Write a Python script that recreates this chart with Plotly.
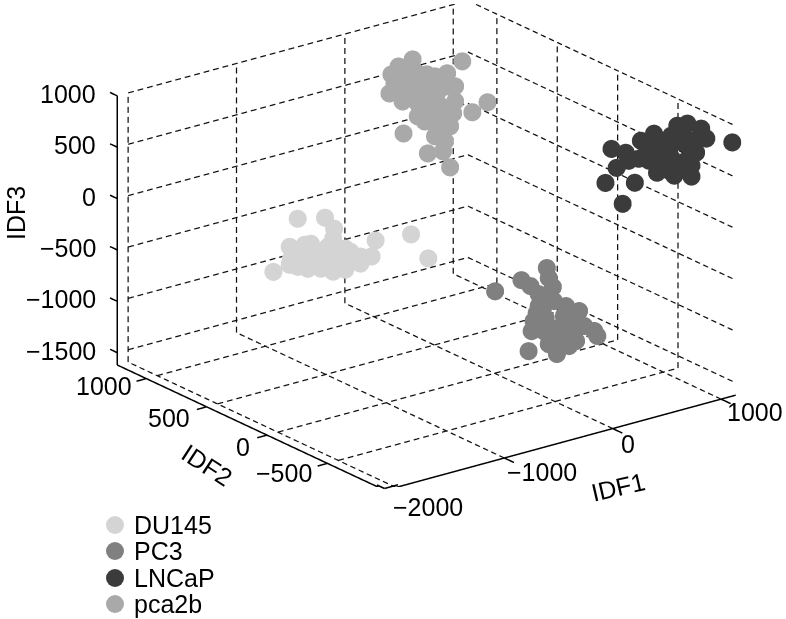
import numpy as np
import plotly.graph_objects as go

# axis limits and ticks
x_range = [-2100, 1135]
y_range = [-978, 1240]
z_range = [-1620, 1000]
x_ticks = [-2000, -1000, 0, 1000]
y_ticks = [-500, 0, 500, 1000]
z_ticks = [-1500, -1000, -500, 0, 500, 1000]
x_labels = ["\u22122000", "\u22121000", "0", "1000"]
y_labels = ["\u2212500", "0", "500", "1000"]
z_labels = ["\u22121500", "\u22121000", "\u2212500", "0", "500", "1000"]

du145_x = [-1014, -762, -678, 32, 191, -1238, -295, -1088, -1079, -1088, -948, -892, -920, -939, -799, -687, -659,
           -687, -575, -547, -435, -435, -332, -799, -1014, -827, -734, -967,
           -920, -780, -640, -1014, -528, -864, -734, -575]
du145_y = [700] * len(du145_x)
du145_z = [-235, -297, -428, -687, -966, -688, -653, -487, -616, -662, -507, -513, -749, -646, -686, -523, -658,
           -844, -651, -786, -769, -837, -798, -783, -586, -658, -733, -570,
           -584, -623, -779, -703, -695, -715, -587, -856]

pc3_x = [-195, 48, 282, 338, 207, 188, 459, 580, 720, 748, 142, 114, 375, 300, 552, 394, 272, 487, 328, 440, 254,
         254, 347, 440, 254, 534, 394, 627, 300, 132, 207, 487, 160]
pc3_y = [-200] * len(pc3_x)
pc3_z = [-681, -642, -591, -792, -823, -1003, -1012, -1095, -1329, -1386, -1165, -1352, -1455, -1337, -1379, -1207,
         -1076, -1195, -1248, -1347, -1197,
         -954, -931, -1103, -1149, -1276, -1334, -1254, -694, -724, -940, -1409, -1073]

lncap_x = [322, 453, 369, 266, 537, 425, 593, 714, 574, 742, 854, 1060, 929, 1022, 976, 854, 733, 873, 1013, 668, 808,
           481, 668, 873, 976, 948, 761, 649, 1060, 854, 1041, 901,
           927, 974, 880, 843, 1130]
lncap_y = [-700] * 32 + [-900] * 4 + [-975]
lncap_z = [832, 757, 634, 517, 441, 268, 834, 868, 664, 480, 468, 351, 884, 878, 706, 741, 678, 589, 521, 764, 530,
           671, 618, 803, 823, 490, 786, 702, 458, 663, 659, 406,
           966, 856, 746, 873, 815]

pca2b_x = [381, 251, 185, 167, 288, 512, 699, 839, 400, 568, 708, 773, 568, 493, 727, 932, 1072, 297, 521, 661, 727,
           633, 335, 213, 615, 755, 428, 540, 633,
           307, 428, 288, 493, 633, 680, 540, 475, 773, 587, 428, 587, 680, 372]
pca2b_y = [1000] * len(pca2b_x)
pca2b_z = [751, 720, 661, 481, 368, 568, 525, 601, 454, 406, 395, 231, 211, 115, 1, 79, 136, 54, -204, -224, -399,
           -70, 530, 565, 257, 119, 310, 443, 76,
           636, 602, 465, 310, 388, 160, 102, 462, 377, 527, 183, -57, -132, 394]

series_names = ["DU145", "PC3", "LNCaP", "pca2b"]
series_colors = ["#d4d4d4", "#808080", "#3b3b3b", "#a9a9a9"]

# my readings came out slightly low and to the right of the grid
read_dx, read_dz = -25, 35

fig = go.Figure()

gx, gy, gz = [], [], []


def dashed(p0, p1, n):
    # chop a grid line into n short pieces, plotly's own 3d dash is far too long here
    p0, p1 = np.array(p0, float), np.array(p1, float)
    for i in range(n):
        a = p0 + (p1 - p0) * i / n
        b = p0 + (p1 - p0) * (i + 0.6) / n
        gx.extend([a[0], b[0], None])
        gy.extend([a[1], b[1], None])
        gz.extend([a[2], b[2], None])


for t in x_ticks:
    dashed((t, y_range[0], z_range[0]), (t, y_range[1], z_range[0]), 33)
    dashed((t, y_range[1], z_range[0]), (t, y_range[1], z_range[1]), 27)
for t in y_ticks:
    dashed((x_ticks[0], t, z_range[0]), (x_range[1], t, z_range[0]), 36)
    dashed((x_range[1], t, z_range[0]), (x_range[1], t, z_range[1]), 27)
for t in z_ticks:
    dashed((x_ticks[0], y_range[1], t), (x_range[1], y_range[1], t), 36)
    dashed((x_range[1], y_range[1], t), (x_range[1], y_range[0], t), 33)
fig.add_trace(go.Scatter3d(x=gx, y=gy, z=gz, mode="lines", showlegend=False, hoverinfo="skip",
                           line=dict(color="#111111", width=2.5)))

# solid axes and tick marks, the native ones came out broken at the corner
ax, ay, az = [], [], []
for a, b in [((x_range[0], y_range[0], z_range[0]), (x_range[1], y_range[0], z_range[0])),
             ((x_range[0], y_range[0], z_range[0]), (x_range[0], y_range[1], z_range[0])),
             ((x_range[0], y_range[1], z_range[0]), (x_range[0], y_range[1], z_range[1]))]:
    ax += [a[0], b[0], None]
    ay += [a[1], b[1], None]
    az += [a[2], b[2], None]
for t in x_ticks:
    ax += [t, t, None]
    ay += [y_range[0], y_range[0] - 80, None]
    az += [z_range[0], z_range[0], None]
for t in y_ticks:
    ax += [x_range[0], x_range[0] - 90, None]
    ay += [t, t, None]
    az += [z_range[0], z_range[0], None]
for t in z_ticks:
    ax += [x_range[0], x_range[0], None]
    ay += [y_range[1], y_range[1] + 60, None]
    az += [t, t, None]
fig.add_trace(go.Scatter3d(x=ax, y=ay, z=az, mode="lines", showlegend=False, hoverinfo="skip",
                           line=dict(color="black", width=3)))

all_x = [du145_x, pc3_x, lncap_x, pca2b_x]
all_y = [du145_y, pc3_y, lncap_y, pca2b_y]
all_z = [du145_z, pc3_z, lncap_z, pca2b_z]
for i, name in enumerate(series_names):
    fig.add_trace(go.Scatter3d(x=[v + read_dx for v in all_x[i]], y=all_y[i], z=[v + read_dz for v in all_z[i]],
                               mode="markers", name=name, showlegend=False,
                               marker=dict(size=10.5, color=series_colors[i], opacity=1, line=dict(width=0))))

axis = dict(showgrid=False, zeroline=False, showbackground=False, showline=False, ticks="", showspikes=False,
            showticklabels=False, title=dict(text=""))

# tick labels sit beside the axes, each nudged as in the picture
scene_notes = []
x_shift = [(32, -20), (38, -14), (15, -16), (34, -13)]
for t, lab, s in zip(x_ticks, x_labels, x_shift):
    scene_notes.append(dict(x=t, y=y_range[0], z=z_range[0], text=lab, showarrow=False, xshift=s[0], yshift=s[1]))
y_shift = [(-43, -10), (-24, -12), (-38, -11), (-42, -8)]
for t, lab, s in zip(y_ticks, y_labels, y_shift):
    scene_notes.append(dict(x=x_range[0], y=t, z=z_range[0], text=lab, showarrow=False, xshift=s[0], yshift=s[1]))
for t, lab in zip(z_ticks, z_labels):
    scene_notes.append(dict(x=x_range[0], y=y_range[1], z=t, text=lab, showarrow=False, xanchor="right",
                            xshift=-19, yshift=2))

W, H = 786, 619
titles = [("IDF1", 618, 487, -13), ("IDF2", 207, 465, 33), ("IDF3", 16, 213, -90)]
notes = [dict(x=px / W, y=1 - py / H, xref="paper", yref="paper", text=txt, textangle=ang, showarrow=False,
              xanchor="center", yanchor="middle")
         for txt, px, py, ang in titles]

# legend drawn by hand, plotly's own rows can't get this tight
shapes = []
legend_rows = [525, 551, 578, 604]
for name, col, py in zip(series_names, series_colors, legend_rows):
    notes.append(dict(x=132 / W, y=1 - py / H, xref="paper", yref="paper", text=name, showarrow=False,
                      xanchor="left", yanchor="middle"))
    shapes.append(dict(type="circle", xref="paper", yref="paper", xsizemode="pixel", ysizemode="pixel",
                       xanchor=115 / W, yanchor=1 - py / H, x0=-9, x1=9, y0=-9, y1=9,
                       fillcolor=col, line=dict(width=0)))

# the scene clips the nearest corner of the axes, so close that gap on the page
for x0, y0, x1, y1 in [(377, 485, 384.5, 488.5), (384.5, 488.5, 398, 484.8)]:
    shapes.append(dict(type="line", xref="paper", yref="paper", x0=x0 / W, y0=1 - y0 / H, x1=x1 / W, y1=1 - y1 / H,
                       line=dict(color="black", width=1.5)))

# scene ranges are padded so the axes and tick marks are not clipped at the box
pad_x, pad_y, pad_z = 150, 150, 50
span_x = x_range[1] - x_range[0]
span_y = y_range[1] - y_range[0]
span_z = z_range[1] - z_range[0]

fig.update_layout(
    width=W, height=H,
    margin=dict(l=0, r=0, t=0, b=0),
    paper_bgcolor="white",
    showlegend=False,
    font=dict(family="Liberation Sans", size=25, color="black"),
    annotations=notes,
    shapes=shapes,
    scene=dict(
        domain=dict(x=[0.0864, 0.9987], y=[0.2135, 0.9935]),
        aspectmode="manual",
        aspectratio=dict(x=1.825 * (span_x + 2 * pad_x) / span_x,
                         y=1.83 * (span_y + 2 * pad_y) / span_y,
                         z=1.193 * (span_z + 2 * pad_z) / span_z),
        camera=dict(projection=dict(type="orthographic"), eye=dict(x=-3.396, y=-4.458, z=2.139),
                    center=dict(x=0, y=0, z=0), up=dict(x=0, y=0, z=1)),
        xaxis=dict(axis, range=[x_range[0] - pad_x, x_range[1] + pad_x], tickvals=x_ticks),
        yaxis=dict(axis, range=[y_range[0] - pad_y, y_range[1] + pad_y], tickvals=y_ticks),
        zaxis=dict(axis, range=[z_range[0] - pad_z, z_range[1] + pad_z], tickvals=z_ticks),
        annotations=scene_notes,
    ),
)

fig.write_html("out.html", config=dict(displayModeBar=False), post_script="document.body.style.margin='0';")
